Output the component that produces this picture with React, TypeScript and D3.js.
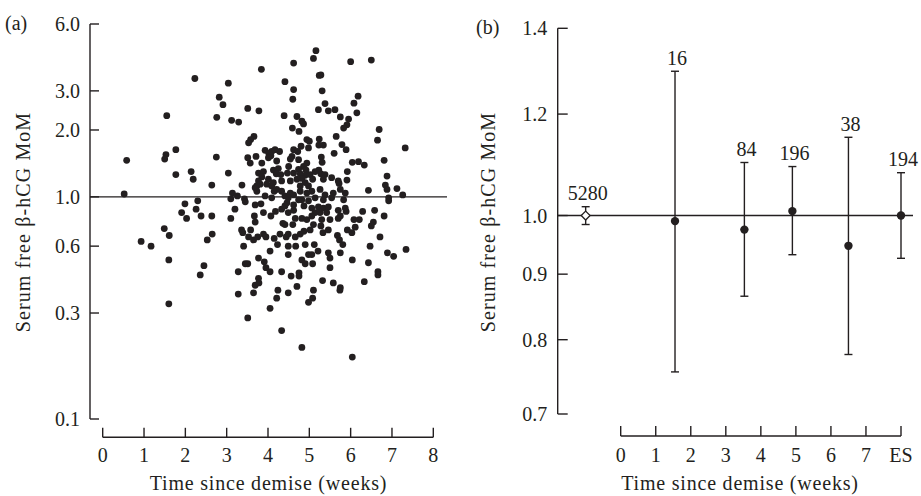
import React from "react";
import * as d3 from "d3";

// (a) individual cases: [weeks since demise, free beta-hCG MoM]
const scatterPoints: [number, number][] = [
  [5.16, 4.55], [5.10, 4.20], [6.50, 4.13], [6.00, 4.06], [4.62, 4.00], [3.84, 3.75],
  [5.28, 3.54], [5.24, 3.52], [2.23, 3.41], [4.41, 3.30], [3.04, 3.25], [4.62, 3.04],
  [5.31, 3.00], [6.18, 2.84], [2.82, 2.81], [4.60, 2.75], [6.08, 2.64], [5.38, 2.63],
  [2.91, 2.60], [3.51, 2.50], [5.22, 2.47], [5.46, 2.44], [5.62, 2.47], [3.78, 2.44],
  [6.15, 2.39], [1.55, 2.32], [4.39, 2.32], [4.70, 2.30], [5.75, 2.29], [2.76, 2.28],
  [5.95, 2.24], [3.12, 2.21], [4.82, 2.19], [3.29, 2.17], [4.86, 2.13], [5.91, 2.11],
  [5.83, 2.04], [4.59, 2.04], [6.69, 2.01], [4.75, 1.97], [5.65, 1.87], [3.66, 1.87],
  [3.58, 1.81], [3.53, 1.75], [5.24, 1.82], [4.94, 1.81], [5.00, 1.78], [6.65, 1.80],
  [5.23, 1.71], [5.34, 1.71], [5.79, 1.72], [7.32, 1.66], [4.80, 1.69], [1.77, 1.63],
  [4.62, 1.63], [5.89, 1.63], [3.93, 1.62], [4.09, 1.60], [4.28, 1.60], [4.17, 1.63],
  [4.72, 1.60], [4.02, 1.57], [5.60, 1.57], [1.53, 1.55], [4.58, 1.52], [3.71, 1.52],
  [4.07, 1.53], [2.75, 1.51], [3.51, 1.50], [5.29, 1.51], [1.50, 1.48], [4.54, 1.48],
  [4.01, 1.50], [0.58, 1.46], [6.81, 1.46], [3.57, 1.42], [5.31, 1.43], [6.04, 1.43],
  [6.19, 1.44], [6.33, 1.39], [4.94, 1.42], [4.86, 1.37], [4.50, 1.37], [4.47, 1.28],
  [5.23, 1.32], [5.28, 1.27], [5.92, 1.30], [6.88, 1.24], [2.14, 1.30], [2.19, 1.20],
  [1.77, 1.26], [3.04, 1.28], [3.77, 1.28], [3.89, 1.30], [3.85, 1.23], [3.77, 1.18],
  [3.81, 1.14], [4.13, 1.32], [4.25, 1.34], [4.20, 1.27], [4.31, 1.26], [4.74, 1.33],
  [4.92, 1.32], [4.78, 1.27], [4.90, 1.25], [4.82, 1.21], [5.02, 1.26], [5.08, 1.20],
  [5.54, 1.22], [5.70, 1.18], [5.91, 1.19], [5.72, 1.15], [6.84, 1.13], [6.88, 1.08],
  [7.12, 1.09], [6.43, 1.07], [7.26, 1.02], [0.52, 1.03], [2.64, 1.13], [3.37, 1.13],
  [3.14, 1.04], [3.26, 1.01], [3.10, 0.98], [3.43, 0.98], [3.45, 0.95], [3.73, 1.06],
  [3.73, 1.12], [3.97, 1.14], [4.09, 1.12], [4.15, 1.06], [4.21, 1.08], [4.33, 1.06],
  [4.41, 1.01], [4.54, 1.04], [4.62, 1.02], [4.78, 1.12], [4.90, 1.16], [4.98, 1.12],
  [5.06, 1.06], [4.94, 1.04], [5.26, 1.08], [5.38, 1.02], [5.58, 1.04], [5.54, 0.99],
  [5.75, 1.08], [5.87, 1.04], [5.83, 0.97], [6.92, 0.99], [6.92, 0.96], [1.99, 0.93],
  [2.30, 0.96], [2.26, 0.88], [1.91, 0.85], [2.03, 0.80], [2.38, 0.82], [2.64, 0.82],
  [3.20, 0.88], [3.10, 0.80], [3.83, 0.93], [3.89, 0.85], [3.67, 0.82], [3.69, 0.77],
  [4.07, 0.82], [4.18, 0.86], [4.33, 0.88], [4.41, 0.91], [4.49, 0.85], [4.62, 0.87],
  [4.66, 0.80], [4.60, 0.75], [4.41, 0.75], [4.36, 0.76], [4.82, 0.97], [4.87, 0.91],
  [4.98, 0.96], [5.06, 0.89], [5.14, 0.85], [5.22, 0.90], [5.26, 0.85], [5.34, 0.89],
  [5.46, 0.90], [5.42, 0.85], [5.50, 0.79], [5.30, 0.79], [5.70, 0.87], [5.87, 0.89],
  [5.89, 0.86], [5.75, 0.82], [5.70, 0.80], [6.29, 0.86], [6.58, 0.87], [6.81, 0.82],
  [6.08, 0.79], [6.21, 0.79], [6.55, 0.77], [6.50, 0.74], [6.11, 0.73], [5.92, 0.71],
  [6.03, 0.69], [5.68, 0.67], [5.73, 0.64], [5.81, 0.61], [6.71, 0.66], [6.47, 0.60],
  [7.34, 0.58], [6.89, 0.56], [5.75, 0.56], [1.49, 0.72], [1.61, 0.67], [0.93, 0.63],
  [1.17, 0.60], [2.53, 0.64], [2.65, 0.68], [3.36, 0.71], [3.39, 0.69], [3.58, 0.71],
  [3.53, 0.66], [3.65, 0.64], [3.75, 0.66], [3.89, 0.68], [3.95, 0.66], [4.15, 0.65],
  [4.29, 0.68], [4.44, 0.66], [4.49, 0.68], [4.66, 0.66], [4.78, 0.68], [4.87, 0.70],
  [5.02, 0.71], [5.10, 0.75], [5.28, 0.74], [5.33, 0.69], [3.41, 0.60], [4.23, 0.61],
  [4.67, 0.60], [5.12, 0.61], [4.05, 0.57], [4.49, 0.55], [4.98, 0.55], [5.06, 0.55],
  [5.21, 0.57], [5.46, 0.56], [5.50, 0.53], [3.77, 0.53], [3.91, 0.51], [3.45, 0.50],
  [3.51, 0.50], [4.82, 0.52], [4.90, 0.50], [5.08, 0.50], [5.50, 0.48], [3.28, 0.46],
  [3.95, 0.48], [4.05, 0.46], [4.33, 0.46], [4.56, 0.44], [4.75, 0.455], [4.75, 0.44],
  [5.32, 0.42], [5.58, 0.41], [3.77, 0.43], [3.69, 0.40], [3.78, 0.41], [4.70, 0.395],
  [4.24, 0.38], [5.10, 0.38], [3.28, 0.365], [3.65, 0.37], [4.21, 0.35], [4.49, 0.37],
  [5.08, 0.35], [4.98, 0.335], [4.05, 0.315], [3.51, 0.285], [4.33, 0.25], [4.82, 0.21],
  [6.04, 0.19], [6.04, 0.52], [6.33, 0.415], [6.43, 0.505], [6.66, 0.46], [6.66, 0.445],
  [7.04, 0.54], [5.75, 0.39], [5.74, 0.38], [1.60, 0.52], [2.36, 0.445], [2.45, 0.49],
  [1.60, 0.33],
  [4.98, 1.66], [4.74, 1.47], [3.85, 1.42], [4.21, 1.45], [4.62, 1.28], [5.14, 1.30],
  [5.38, 1.26], [4.01, 1.20], [4.13, 1.16], [4.33, 1.18], [4.54, 1.18], [4.70, 1.20],
  [5.34, 1.20], [3.69, 1.10], [4.78, 1.06], [3.93, 1.01], [4.09, 0.99], [4.49, 0.99],
  [4.74, 0.97], [5.14, 0.99], [5.34, 0.97], [3.69, 0.92], [4.46, 0.94], [4.62, 0.92],
  [4.82, 0.80], [4.94, 0.79], [5.06, 0.82], [5.46, 0.71], [4.49, 0.60], [4.90, 0.61],
];
const scatterYTicks = [0.1, 0.3, 0.6, 1.0, 2.0, 3.0, 6.0];
const scatterXTicks = [0, 1, 2, 3, 4, 5, 6, 7, 8];

// (b) group medians with intervals, n above each bar
const groupWeeks = [-1, 1.55, 3.53, 4.9, 6.5, 8];
const groupCounts = ["5280", "16", "84", "196", "38", "194"];
const groupMedian = [1.0, 0.99, 0.975, 1.008, 0.947, 1.0];
const groupLower = [0.984, 0.755, 0.865, 0.932, 0.779, 0.926];
const groupUpper = [1.016, 1.296, 1.1, 1.092, 1.151, 1.08];
const summaryYTicks = [0.7, 0.8, 0.9, 1.0, 1.2, 1.4];
const summaryXTicks = ["0", "1", "2", "3", "4", "5", "6", "7", "ES"];

const ink = "#231f20";
const fs = 20;

export default function App() {
  const fmt = d3.format(".1f");

  // panel (a)
  const xA = d3.scaleLinear().domain([0, 8]).range([102.7, 433.3]);
  const yA = d3.scaleLog().domain([0.1, 6]).range([419, 24]);
  const axA = 90;
  const baseA = 437.3;

  // panel (b)
  const xB = d3.scaleLinear().domain([0, 8]).range([620.7, 901]);
  const yB = d3.scaleLog().domain([0.7, 1.4]).range([414, 28.3]);
  const axB = 557.7;
  const baseB = 436;

  const diamond = d3.symbol((d3 as any).symbolDiamond2 || d3.symbolDiamond, 50)();

  return (
    <svg
      width={921}
      height={496}
      style={{ position: "absolute", left: 0, top: 0, background: "#fff" }}
      fontFamily="'Liberation Serif', 'Times New Roman', serif"
      fontSize={fs}
    >
      <rect width={921} height={496} fill="#fff" />
      {/* ---------- (a) ---------- */}
      <g>
        <text x={5} y={30} fill={ink}>(a)</text>
        <line x1={axA} x2={axA} y1={yA(6)} y2={yA(0.1)} stroke={ink} strokeWidth={1.4} />
        {scatterYTicks.map((t) => (
          <g key={"ya" + t}>
            <line x1={axA} x2={axA + 9} y1={yA(t)} y2={yA(t)} stroke={ink} strokeWidth={1.4} />
            <text x={80} y={yA(t)} dy="0.35em" textAnchor="end" fill={ink}>{fmt(t)}</text>
          </g>
        ))}
        <line x1={axA} x2={447} y1={yA(1)} y2={yA(1)} stroke={ink} strokeWidth={1.4} />
        <line x1={xA(0)} x2={xA(8)} y1={baseA} y2={baseA} stroke={ink} strokeWidth={1.4} />
        {scatterXTicks.map((t) => (
          <g key={"xa" + t}>
            <line x1={xA(t)} x2={xA(t)} y1={baseA} y2={baseA - 9.5} stroke={ink} strokeWidth={1.4} />
            <text x={xA(t)} y={461.5} textAnchor="middle" fill={ink}>{t}</text>
          </g>
        ))}
        <text x={268.5} y={490} textAnchor="middle" fill={ink} letterSpacing={0.8}>
          Time since demise (weeks)
        </text>
        <text transform="translate(30,222) rotate(-90)" textAnchor="middle" fill={ink} letterSpacing={1.1}>
          Serum free β-hCG MoM
        </text>
        {scatterPoints.map((d, i) => (
          <circle key={"p" + i} cx={xA(d[0])} cy={yA(d[1])} r={3.4} fill={ink} />
        ))}
      </g>

      {/* ---------- (b) ---------- */}
      <g>
        <text x={476} y={34} fill={ink}>(b)</text>
        <line x1={axB} x2={axB} y1={yB(1.4)} y2={yB(0.7)} stroke={ink} strokeWidth={1.4} />
        {summaryYTicks.map((t) => (
          <g key={"yb" + t}>
            <line x1={axB} x2={axB + 10} y1={yB(t)} y2={yB(t)} stroke={ink} strokeWidth={1.4} />
            <text x={547.3} y={yB(t)} dy="0.35em" textAnchor="end" fill={ink}>{fmt(t)}</text>
          </g>
        ))}
        <line x1={axB} x2={913} y1={yB(1)} y2={yB(1)} stroke={ink} strokeWidth={1.4} />
        <line x1={xB(0)} x2={xB(8)} y1={baseB} y2={baseB} stroke={ink} strokeWidth={1.4} />
        {summaryXTicks.map((t, i) => (
          <g key={"xb" + t}>
            <line x1={xB(i)} x2={xB(i)} y1={baseB} y2={baseB - 10} stroke={ink} strokeWidth={1.4} />
            <text x={xB(i)} y={461.5} textAnchor="middle" fill={ink}>{t}</text>
          </g>
        ))}
        <text x={740} y={490} textAnchor="middle" fill={ink} letterSpacing={0.8}>
          Time since demise (weeks)
        </text>
        <text transform="translate(495,222) rotate(-90)" textAnchor="middle" fill={ink} letterSpacing={1.1}>
          Serum free β-hCG MoM
        </text>
        {groupWeeks.map((w, i) => {
          const cx = xB(w);
          return (
            <g key={"g" + i}>
              <line x1={cx} x2={cx} y1={yB(groupLower[i])} y2={yB(groupUpper[i])} stroke={ink} strokeWidth={1.4} />
              <line x1={cx - 4} x2={cx + 4} y1={yB(groupLower[i])} y2={yB(groupLower[i])} stroke={ink} strokeWidth={1.4} />
              <line x1={cx - 4} x2={cx + 4} y1={yB(groupUpper[i])} y2={yB(groupUpper[i])} stroke={ink} strokeWidth={1.4} />
              {i === 0 ? (
                <path d={diamond || ""} transform={`translate(${cx},${yB(groupMedian[i])})`} fill="#fff" stroke={ink} strokeWidth={1.3} />
              ) : (
                <circle cx={cx} cy={yB(groupMedian[i])} r={4.2} fill={ink} />
              )}
              <text x={cx + 2} y={yB(groupUpper[i]) - 6.5} textAnchor="middle" fill={ink}>
                {groupCounts[i]}
              </text>
            </g>
          );
        })}
      </g>
    </svg>
  );
}
